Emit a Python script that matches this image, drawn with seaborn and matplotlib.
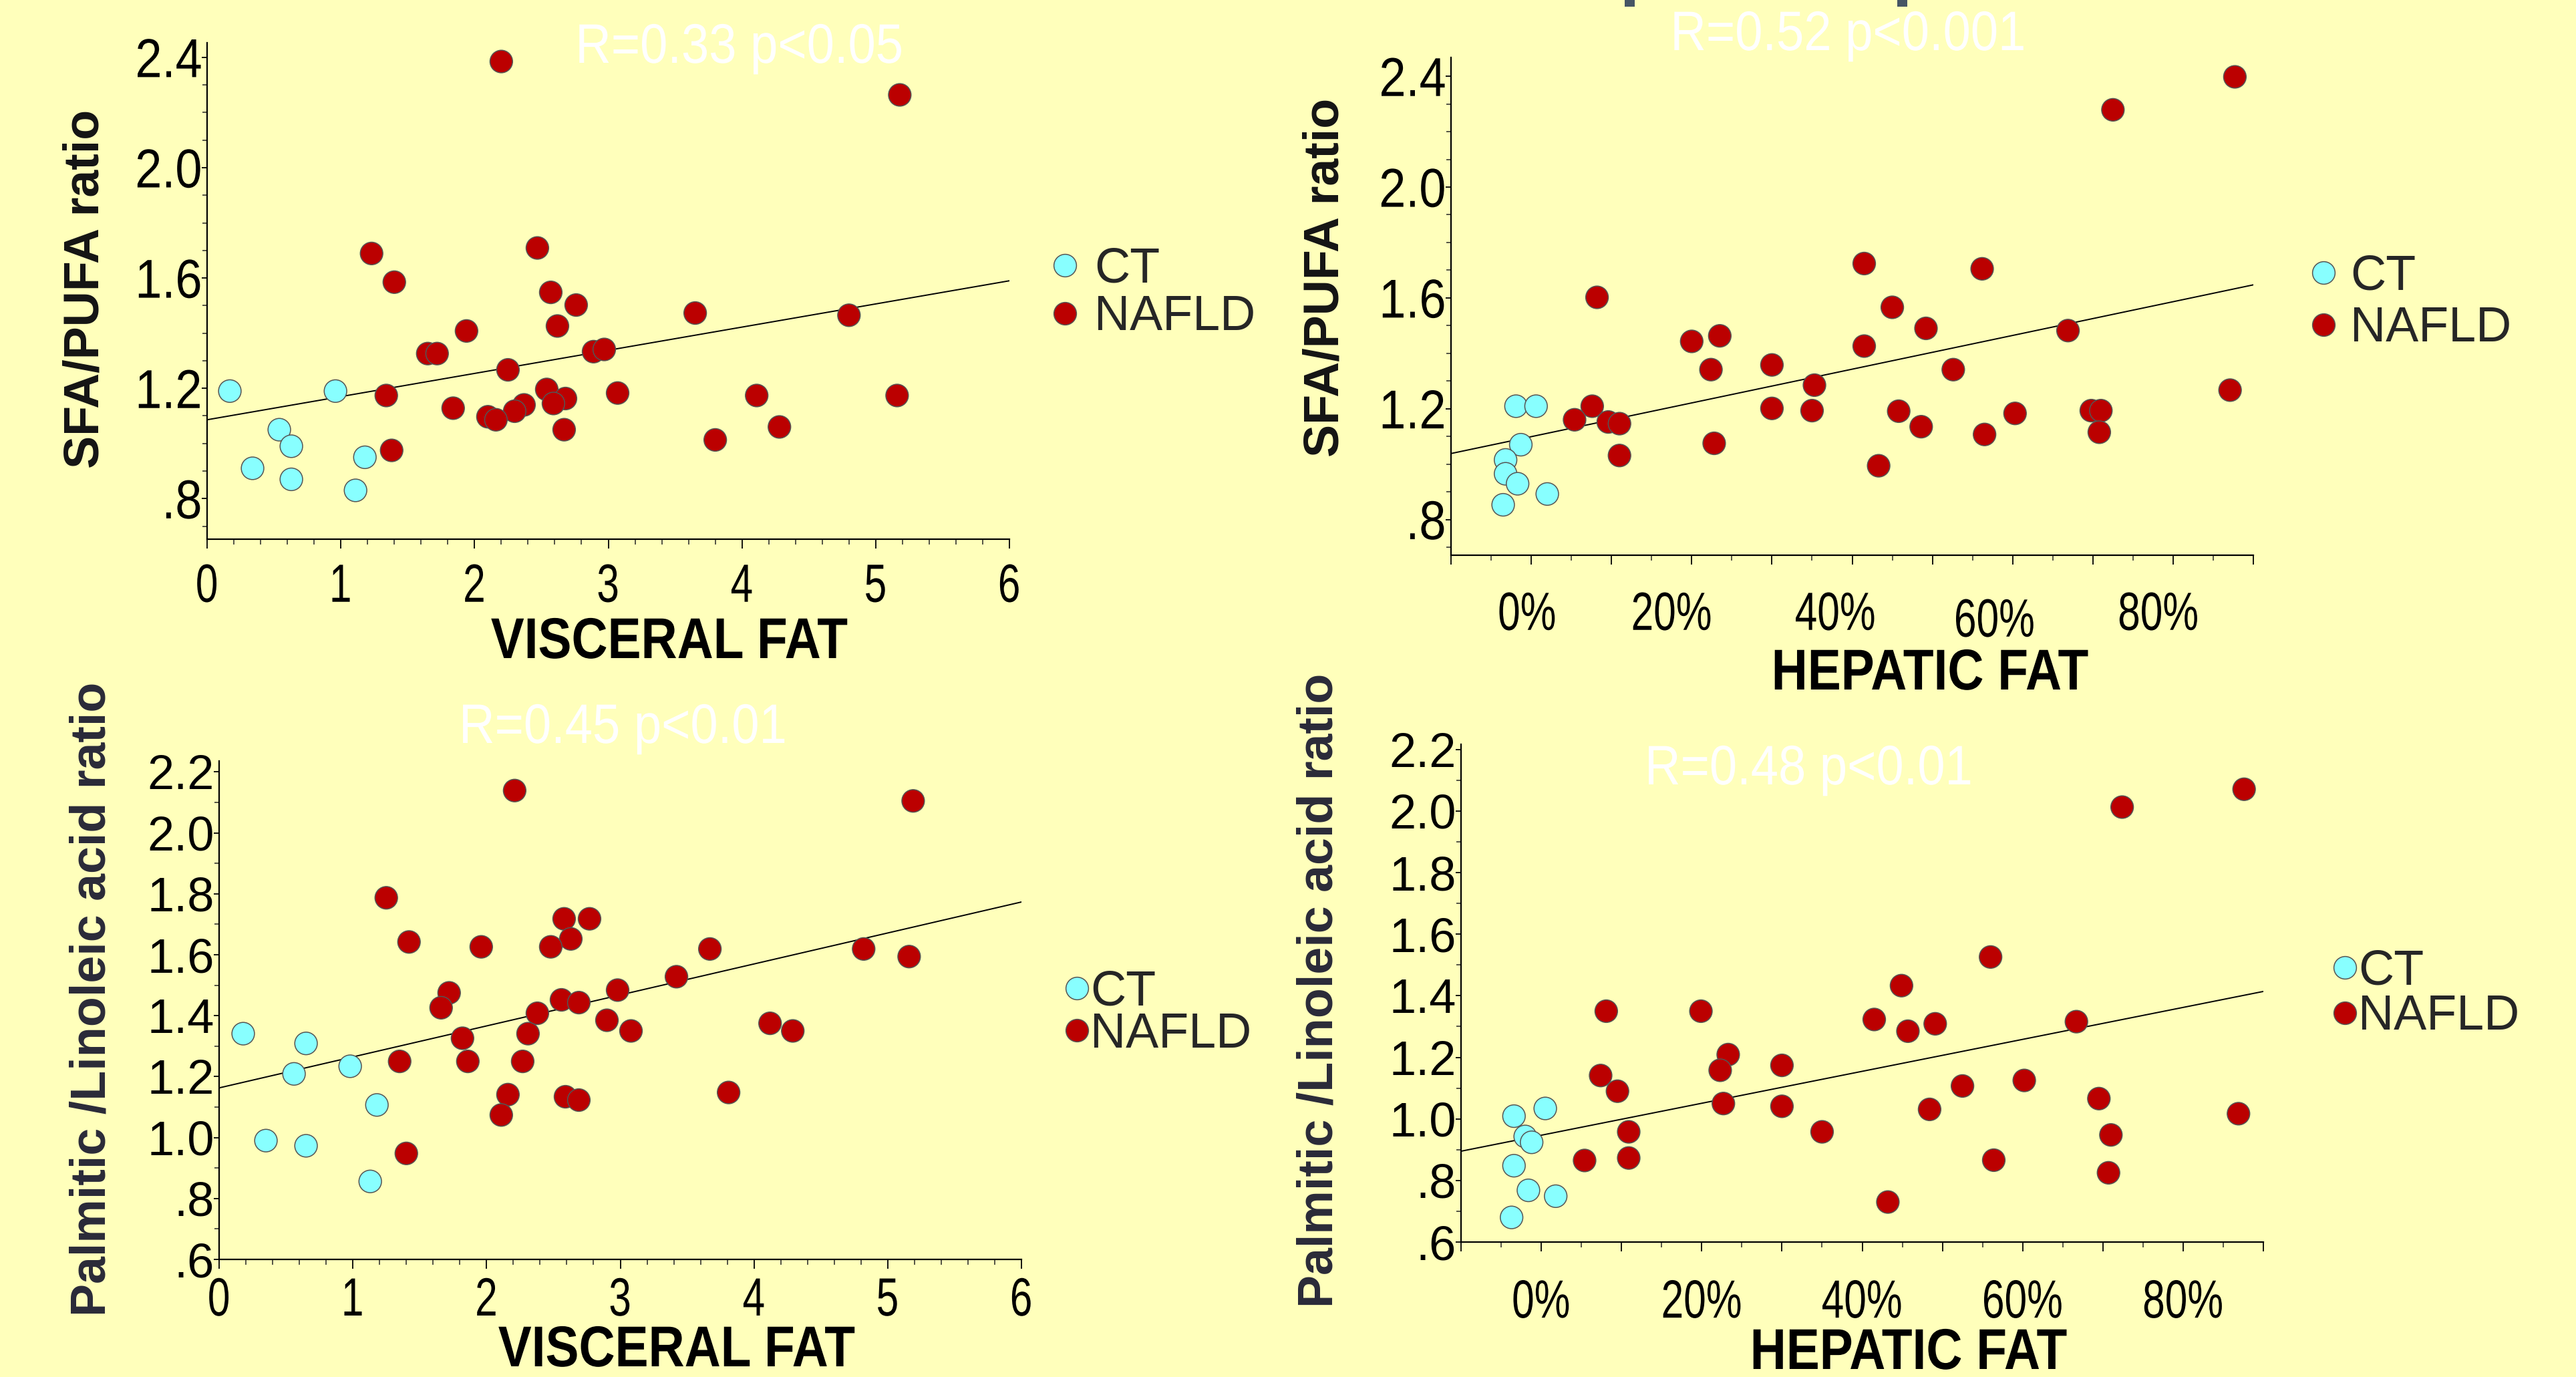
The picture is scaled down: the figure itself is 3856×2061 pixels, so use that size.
"""Four scatter panels: SFA/PUFA and palmitic/linoleic ratio vs visceral and hepatic fat."""

import matplotlib

matplotlib.use("Agg")
import matplotlib.pyplot as plt
import pandas as pd
import seaborn as sns
from matplotlib.lines import Line2D
from matplotlib.patches import Rectangle
from matplotlib.patheffects import AbstractPathEffect
from matplotlib.ticker import FixedLocator, MultipleLocator
from matplotlib.transforms import Affine2D, ScaledTranslation

# --- data ----------------------------------------------------------------

GROUPS = ["CT", "NAFLD"]

# top left: visceral fat vs SFA/PUFA
VISC_SFA_CT_X = [0.17, 0.96, 0.54, 0.63, 0.34, 0.63, 1.18, 1.11]
VISC_SFA_CT_Y = [1.19, 1.19, 1.05, 0.99, 0.91, 0.87, 0.95, 0.83]
VISC_SFA_NAFLD_X = [2.20, 5.18, 1.23, 2.47, 1.40, 2.57, 2.76, 2.62, 1.94, 3.65, 4.80,
                    1.65, 1.72, 2.89, 2.97, 2.25, 1.34, 2.54, 2.68, 2.59, 3.07, 1.84,
                    2.37, 2.30, 2.10, 2.16, 2.67, 1.38, 4.11, 5.16, 3.80, 4.28]
VISC_SFA_NAFLD_Y = [2.385, 2.264, 1.689, 1.709, 1.585, 1.548, 1.502, 1.426, 1.408, 1.473,
                    1.465, 1.326, 1.326, 1.333, 1.341, 1.267, 1.174, 1.196, 1.163, 1.145,
                    1.183, 1.128, 1.140, 1.117, 1.097, 1.086, 1.050, 0.975, 1.174, 1.174,
                    1.013, 1.060]
VISC_SFA_FIT = (1.086, 0.084)  # intercept, slope
VISC_SFA_STAT = "R=0.33 p<0.05"

# top right: hepatic fat vs SFA/PUFA
HEP_SFA_CT_X = [-1.9, 0.6, -1.3, -3.2, -3.2, -1.7, 2.0, -3.5]
HEP_SFA_CT_Y = [1.209, 1.209, 1.070, 1.015, 0.965, 0.929, 0.892, 0.853]
HEP_SFA_NAFLD_X = [87.7, 72.5, 41.5, 56.2, 8.2, 45.0, 49.2, 66.9, 20.0, 23.5, 41.5,
                   22.4, 30.0, 52.6, 35.3, 7.6, 5.4, 9.6, 11.0, 30.0, 35.0, 45.8,
                   60.3, 69.8, 71.0, 48.6, 56.5, 70.8, 87.1, 22.8, 11.0, 43.3]
HEP_SFA_NAFLD_Y = [2.398, 2.279, 1.724, 1.705, 1.602, 1.566, 1.490, 1.482, 1.443, 1.463,
                   1.426, 1.341, 1.358, 1.341, 1.285, 1.209, 1.160, 1.152, 1.146, 1.201,
                   1.193, 1.191, 1.183, 1.193, 1.193, 1.135, 1.107, 1.115, 1.267, 1.075,
                   1.031, 0.994]
HEP_SFA_FIT = (1.099, 0.00609)
HEP_SFA_STAT = "R=0.52 p<0.001"

# bottom left: visceral fat vs palmitic/linoleic
VISC_PAL_CT_X = [0.18, 0.65, 0.56, 0.98, 1.18, 0.35, 0.65, 1.13]
VISC_PAL_CT_Y = [1.341, 1.309, 1.209, 1.234, 1.107, 0.990, 0.973, 0.856]
VISC_PAL_NAFLD_X = [2.21, 5.19, 1.25, 2.58, 2.77, 2.63, 1.42, 1.96, 2.48, 3.67, 4.82,
                    5.16, 3.42, 1.72, 2.98, 1.66, 2.56, 2.69, 2.38, 2.90, 3.08, 4.12,
                    4.29, 1.82, 2.31, 1.35, 1.86, 2.27, 2.16, 2.59, 2.69, 3.81, 2.11,
                    1.40]
VISC_PAL_NAFLD_Y = [2.139, 2.105, 1.787, 1.718, 1.718, 1.652, 1.642, 1.626, 1.626, 1.619,
                    1.619, 1.594, 1.528, 1.475, 1.484, 1.426, 1.452, 1.443, 1.408, 1.385,
                    1.350, 1.375, 1.350, 1.326, 1.341, 1.250, 1.250, 1.250, 1.141, 1.134,
                    1.123, 1.148, 1.074, 0.948]
VISC_PAL_FIT = (1.163, 0.1017)
VISC_PAL_STAT = "R=0.45 p<0.01"

# bottom right: hepatic fat vs palmitic/linoleic
HEP_PAL_CT_X = [-3.4, 0.5, -2.0, -1.2, -3.4, -1.6, 1.8, -3.7]
HEP_PAL_CT_Y = [1.009, 1.034, 0.943, 0.924, 0.848, 0.768, 0.749, 0.680]
HEP_PAL_NAFLD_X = [87.6, 72.4, 56.0, 44.9, 8.1, 19.9, 41.5, 45.7, 49.1, 66.7, 23.3,
                   22.3, 30.0, 7.4, 9.5, 52.5, 60.2, 69.5, 22.7, 30.0, 48.4, 86.9,
                   10.9, 35.0, 71.0, 5.4, 10.9, 56.4, 70.7, 43.2]
HEP_PAL_NAFLD_Y = [2.071, 2.013, 1.526, 1.433, 1.350, 1.350, 1.323, 1.285, 1.309, 1.316,
                   1.209, 1.158, 1.174, 1.141, 1.090, 1.107, 1.125, 1.066, 1.050, 1.041,
                   1.031, 1.017, 0.958, 0.958, 0.948, 0.865, 0.873, 0.866, 0.825, 0.730]
HEP_PAL_FIT = (0.947, 0.00519)
HEP_PAL_STAT = "R=0.48 p<0.01"

VISC_TICKS = [0, 1, 2, 3, 4, 5, 6]
VISC_TICK_LABELS = ["0", "1", "2", "3", "4", "5", "6"]
HEP_TICKS = [-10, 0, 10, 20, 30, 40, 50, 60, 70, 80, 90]
HEP_TICK_LABELS = ["", "0%", "", "20%", "", "40%", "", "60%", "", "80%", ""]
SFA_TICKS = [0.8, 1.2, 1.6, 2.0, 2.4]
SFA_TICK_LABELS = [".8", "1.2", "1.6", "2.0", "2.4"]
PAL_TICKS = [0.6, 0.8, 1.0, 1.2, 1.4, 1.6, 1.8, 2.0, 2.2]
PAL_TICK_LABELS = [".6", ".8", "1.0", "1.2", "1.4", "1.6", "1.8", "2.0", "2.2"]

# --- style -----------------------------------------------------------------

W, H, DPI = 3856, 2061, 100
BG = "#FFFFBB"
PALETTE = {"CT": "#88FFFF", "NAFLD": "#BB0000"}
EDGE = "#555555"
MARKER_PT = 24.3

sns.set_style("ticks")
plt.rcParams["font.family"] = ["Liberation Sans", "DejaVu Sans"]


class Condense(AbstractPathEffect):
    """Squeeze a text path horizontally (no narrow font installed)."""

    def __init__(self, sx, anchor="center"):
        super().__init__()
        self.sx = sx
        self.anchor = anchor

    def draw_path(self, renderer, gc, tpath, affine, rgbFace=None):
        v = tpath.vertices
        if len(v) == 0:
            return
        x0, x1 = v[:, 0].min(), v[:, 0].max()
        c = {"center": (x0 + x1) / 2, "right": x1, "left": x0}[self.anchor]
        squeeze = Affine2D().translate(-c, 0).scale(self.sx, 1).translate(c, 0)
        renderer.draw_path(gc, tpath, squeeze + affine, rgbFace)


def fx(px):
    return px / W


def fy(py):
    return 1 - py / H


def draw_panel(fig, box, ct_x, ct_y, nafld_x, nafld_y, fit, stat, xlim, ylim,
               xticks, xticklabels, xminor, yticks, yticklabels, yminor,
               xlabel, ylabel, ylabel_color, xlabel_xy, ylabel_xy, stat_xy,
               legend_xy, text_pad, row_gap, xpad, yfont, xshift=None):
    left, top, right, bottom = box
    ax = fig.add_axes([fx(left), fy(bottom), (right - left) / W, (bottom - top) / H])
    ax.set_facecolor(BG)

    df = pd.DataFrame({
        "x": list(ct_x) + list(nafld_x),
        "y": list(ct_y) + list(nafld_y),
        "group": ["CT"] * len(ct_x) + ["NAFLD"] * len(nafld_x),
    })
    sns.scatterplot(data=df, x="x", y="y", hue="group", hue_order=GROUPS,
                    palette=PALETTE, s=MARKER_PT ** 2, edgecolor=EDGE,
                    linewidth=1.1, legend=False, ax=ax, zorder=3)
    ax.axline((0, fit[0]), slope=fit[1], color="black", lw=1.4, zorder=2)

    ax.set_xlim(*xlim)
    ax.set_ylim(*ylim)
    ax.xaxis.set_major_locator(FixedLocator(xticks))
    ax.set_xticklabels(xticklabels)
    ax.xaxis.set_minor_locator(MultipleLocator(xminor))
    ax.yaxis.set_major_locator(FixedLocator(yticks))
    ax.set_yticklabels(yticklabels)
    ax.yaxis.set_minor_locator(MultipleLocator(yminor))

    sns.despine(ax=ax)
    for side in ("left", "bottom"):
        ax.spines[side].set_linewidth(1.6)
        ax.spines[side].set_color("black")
    ax.tick_params(axis="x", which="major", direction="out", length=10, width=1.3,
                   pad=xpad, colors="black")
    ax.tick_params(axis="x", which="minor", direction="out", length=6, width=1.1)
    ax.tick_params(axis="y", which="major", direction="out", length=6, width=1.3,
                   pad=-1, colors="black")
    ax.tick_params(axis="y", which="minor", direction="out", length=5, width=1.1)
    for lbl in ax.get_xticklabels():
        lbl.set_fontsize(58)
        lbl.set_path_effects([Condense(0.75)])
    for lbl in ax.get_yticklabels():
        lbl.set_fontsize(yfont[0])
        if yfont[1] != 1:
            lbl.set_path_effects([Condense(yfont[1], "right")])
    if xshift:
        for lbl, (dx, dy) in zip(ax.get_xticklabels(), xshift):
            lbl.set_transform(lbl.get_transform()
                              + ScaledTranslation(dx / DPI, -dy / DPI, fig.dpi_scale_trans))

    ax.set_xlabel("")
    ax.set_ylabel("")
    fig.text(fx(xlabel_xy[0]), fy(xlabel_xy[1]), xlabel, ha="center", va="center",
             fontsize=62, fontweight="bold", color="black",
             path_effects=[Condense(0.87)])
    fig.text(fx(ylabel_xy[0]), fy(ylabel_xy[1]), ylabel, ha="center", va="center",
             rotation=90, fontsize=53, fontweight="bold", color=ylabel_color)
    fig.text(fx(stat_xy[0]), fy(stat_xy[1]), stat, ha="center", va="center",
             fontsize=60, color="white", path_effects=[Condense(0.89)])

    handles = [Line2D([], [], marker="o", linestyle="", markersize=MARKER_PT,
                      markerfacecolor=PALETTE[g], markeredgecolor=EDGE,
                      markeredgewidth=1.1) for g in GROUPS]
    ax.legend(handles, GROUPS, loc="center left",
              bbox_to_anchor=(fx(legend_xy[0]), fy(legend_xy[1])),
              bbox_transform=fig.transFigure, frameon=False, fontsize=53,
              handlelength=0.45, handletextpad=text_pad, labelspacing=row_gap,
              borderpad=0, borderaxespad=0)
    return ax


fig = plt.figure(figsize=(W / DPI, H / DPI), dpi=DPI, facecolor=BG)

draw_panel(fig, (310, 64, 1511, 807),
           VISC_SFA_CT_X, VISC_SFA_CT_Y, VISC_SFA_NAFLD_X, VISC_SFA_NAFLD_Y,
           VISC_SFA_FIT, VISC_SFA_STAT, (0, 6), (0.653, 2.453),
           VISC_TICKS, VISC_TICK_LABELS, 0.2, SFA_TICKS, SFA_TICK_LABELS, 0.1,
           "VISCERAL FAT", "SFA/PUFA ratio", "#141414",
           (1002, 963), (128, 432), (1107, 72), (1577, 439), 0.38, 0.04, 15,
           (59, 0.88))

draw_panel(fig, (2172, 86, 3373, 831),
           HEP_SFA_CT_X, HEP_SFA_CT_Y, HEP_SFA_NAFLD_X, HEP_SFA_NAFLD_Y,
           HEP_SFA_FIT, HEP_SFA_STAT, (-10, 90), (0.671, 2.468),
           HEP_TICKS, HEP_TICK_LABELS, 5, SFA_TICKS, SFA_TICK_LABELS, 0.1,
           "HEPATIC FAT", "SFA/PUFA ratio", "#141414",
           (2889, 1010), (1984, 415), (2767, 53), (3461, 453), 0.33, 0.12, 28,
           (59, 0.88),
           xshift=[(0, 0), (-6, 0), (0, 0), (-30, 0), (0, 0), (-25, 0),
                   (0, 0), (-27, 10), (0, 0), (-22, 0), (0, 0)])

draw_panel(fig, (328, 1139, 1529, 1885),
           VISC_PAL_CT_X, VISC_PAL_CT_Y, VISC_PAL_NAFLD_X, VISC_PAL_NAFLD_Y,
           VISC_PAL_FIT, VISC_PAL_STAT, (0, 6), (0.6, 2.236),
           VISC_TICKS, VISC_TICK_LABELS, 0.2, PAL_TICKS, PAL_TICK_LABELS, 0.1,
           "VISCERAL FAT", "Palmitic /Linoleic acid ratio", "#2a2a38",
           (1013, 2023), (138, 1495), (933, 1090), (1595, 1517), 0.05, -0.08, 8,
           (52, 1))

draw_panel(fig, (2187, 1114, 3388, 1859),
           HEP_PAL_CT_X, HEP_PAL_CT_Y, HEP_PAL_NAFLD_X, HEP_PAL_NAFLD_Y,
           HEP_PAL_FIT, HEP_PAL_STAT, (-10, 90), (0.6, 2.217),
           HEP_TICKS, HEP_TICK_LABELS, 5, PAL_TICKS, PAL_TICK_LABELS, 0.1,
           "HEPATIC FAT", "Palmitic /Linoleic acid ratio", "#2a2a38",
           (2857, 2027), (1975, 1482), (2708, 1152), (3493, 1488), 0.05, -0.02, 29,
           (52, 1))

# bits of a cut-off slide title at the very top edge
for left_px in (2432, 2840):
    fig.patches.append(Rectangle((fx(left_px), fy(10)), 15 / W, 10 / H,
                                 transform=fig.transFigure, facecolor="#465564",
                                 edgecolor="none"))

fig.savefig("out.png", dpi=DPI, facecolor=BG)
